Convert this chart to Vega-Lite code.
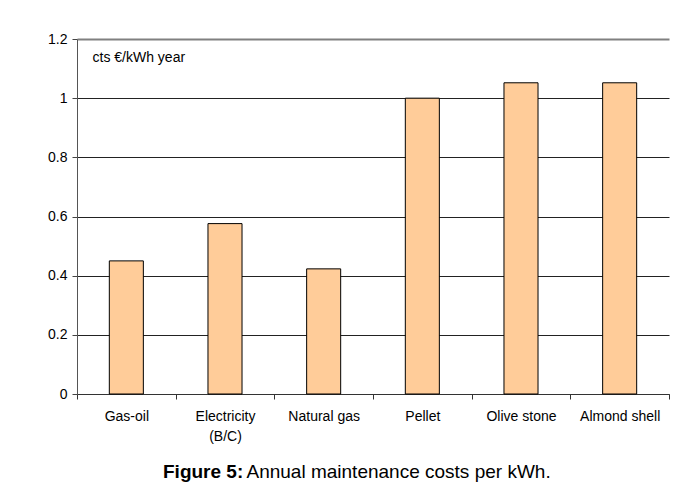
{
  "$schema": "https://vega.github.io/schema/vega-lite/v6.json",
  "autosize": {"type": "none"},
  "padding": {"left": 77, "top": 39, "right": 7, "bottom": 92},
  "width": 592,
  "height": 355,
  "background": "white",
  "config": {
    "font": "Liberation Sans",
    "view": {"stroke": null},
    "axis": {"labelFont": "Liberation Sans", "titleFont": "Liberation Sans"}
  },
  "title": {
    "text": "Figure 5:",
    "orient": "bottom",
    "anchor": "start",
    "frame": "group",
    "fontSize": 19,
    "fontWeight": "bold",
    "font": "Liberation Sans",
    "color": "#000",
    "dx": 86,
    "dy": -3,
    "offset": 0,
    "baseline": "alphabetic"
  },
  "data": {
    "values": [
      {"fuel": "Gas-oil", "cost": 0.45},
      {"fuel": "Electricity (B/C)", "cost": 0.576},
      {"fuel": "Natural gas", "cost": 0.423},
      {"fuel": "Pellet", "cost": 1.0},
      {"fuel": "Olive stone", "cost": 1.052},
      {"fuel": "Almond shell", "cost": 1.052}
    ]
  },
  "mark": {"type": "bar", "width": {"band": 0.345}, "fill": "#FFCC99", "stroke": "#000", "strokeWidth": 1},
  "encoding": {
    "x": {
      "field": "fuel",
      "type": "nominal",
      "sort": null,
      "scale": {"paddingInner": 0, "paddingOuter": 0},
      "axis": {
        "title": "Annual maintenance costs per kWh.",
        "titleFontSize": 19,
        "titleFontWeight": "normal",
        "titleColor": "#000",
        "titleAnchor": "start",
        "titleAlign": "left",
        "titleBaseline": "alphabetic",
        "titleX": 169,
        "titleY": 83,
        "labelAngle": 0,
        "labelFontSize": 14,
        "labelColor": "#000",
        "labelBaseline": "top",
        "labelPadding": 10,
        "labelLineHeight": 20,
        "labelExpr": "datum.value == 'Electricity (B/C)' ? ['Electricity', '(B/C)'] : datum.value",
        "tickBand": "extent",
        "ticks": true,
        "tickSize": 5,
        "tickColor": "#333",
        "domainColor": "#333",
        "grid": false
      }
    },
    "y": {
      "field": "cost",
      "type": "quantitative",
      "scale": {"domain": [0, 1.2], "nice": false},
      "axis": {
        "values": [0, 0.2, 0.4, 0.6, 0.8, 1, 1.2],
        "format": "~g",
        "title": "cts €/kWh year",
        "titleAngle": 0,
        "titleAlign": "left",
        "titleBaseline": "middle",
        "titleX": 15,
        "titleY": 18,
        "titleFontSize": 14,
        "titleFontWeight": "normal",
        "titleColor": "#000",
        "labelFontSize": 14,
        "labelColor": "#000",
        "labelPadding": 5,
        "tickSize": 5,
        "tickColor": "#444",
        "domainColor": "#555",
        "grid": true,
        "gridColor": {"condition": {"test": "datum.value == 1.2", "value": "#808080"}, "value": "#222"},
        "gridWidth": {"condition": {"test": "datum.value == 1.2", "value": 2}, "value": 1}
      }
    }
  }
}
